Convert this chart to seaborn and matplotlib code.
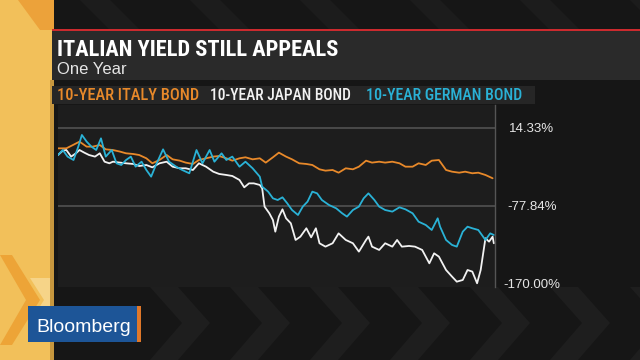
import pandas as pd
import seaborn as sns
import matplotlib.pyplot as plt
from matplotlib.patches import Rectangle, Polygon
from matplotlib import font_manager
from matplotlib.font_manager import FontProperties

# one year change (day of year, % change)
italy_days = [0, 7, 12.5, 18, 24, 29, 35, 40, 46, 52, 57, 63, 68, 74, 79, 85, 91, 96, 102, 107,
              113, 118, 124, 130, 135, 141, 146, 152, 157, 163, 169, 174, 180, 185, 191, 196, 202,
              208, 213, 219, 224, 230, 235, 241, 247, 252, 258, 263, 269, 274, 280, 286, 291, 297,
              302, 308, 313, 319, 325, 330, 336, 341, 347, 352, 358, 364]
italy_vals = [-9.7, -9.7, -5.8, -1.8, -7.7, -7.7, -5.8, -10.9, -11.7, -13.6, -15.6, -16.4, -17.6,
              -21.5, -27.4, -23.5, -17.6, -22.7, -24.3, -26.6, -28.2, -23.5, -21.5, -19.5, -18.8,
              -21.5, -24.3, -21.5, -20.3, -22.7, -21.5, -26.6, -20.3, -14.8, -19.5, -22.7, -27.4,
              -28.2, -29.4, -34.5, -36.1, -35.3, -38.5, -33.3, -34.5, -31.4, -24.3, -26.6, -25.5,
              -26.6, -25.5, -27.4, -31.4, -31.4, -27.4, -29.4, -24.3, -23.5, -35.3, -37.3, -38.5,
              -37.3, -39.2, -38.5, -41.2, -45.1]

japan_days = [0, 4, 7, 11, 15, 18, 22, 26, 31, 35, 39, 43, 46, 52, 57, 63, 68, 74, 79, 85, 91, 96,
              102, 107, 113, 118, 124, 130, 135, 141, 146, 152, 156, 160, 164, 169, 171, 173, 177,
              180, 182, 185, 188, 191, 195, 199, 203, 208, 212, 216, 219, 224, 230, 235, 241, 247,
              252, 258, 260, 263, 269, 274, 280, 284, 288, 294, 299, 305, 311, 315, 319, 325, 330,
              334, 339, 343, 347, 351, 354, 358, 361, 364, 365]
japan_vals = [-17.6, -12.5, -11.7, -19.5, -15.6, -11.7, -14.8, -17.6, -19.5, -15.6, -25.5, -27.4,
              -25.5, -26.6, -27.4, -28.2, -30.6, -29.4, -32.2, -27.4, -25.5, -31.4, -33.3, -33.3,
              -35.3, -27.4, -31.4, -37.3, -40.0, -41.2, -42.4, -47.1, -55.8, -51.1, -51.1, -53.0,
              -57.0, -78.6, -86.5, -94.4, -108.2, -90.4, -81.8, -92.4, -98.3, -118.0, -114.1,
              -104.2, -114.9, -104.2, -121.9, -125.9, -121.9, -110.2, -118.0, -121.9, -131.8,
              -118.0, -114.1, -125.9, -129.8, -121.9, -125.9, -118.0, -125.9, -125.1, -125.9,
              -129.8, -145.6, -133.8, -137.7, -153.5, -161.3, -167.3, -165.3, -153.5, -155.4,
              -169.2, -153.5, -116.0, -120.0, -114.1, -121.9]

german_days = [0, 4, 8, 13, 17, 20, 24, 28, 32, 36, 40, 45, 49, 53, 57, 61, 65, 70, 74, 78, 82, 88,
               93, 99, 104, 110, 116, 121, 127, 131, 137, 141, 146, 152, 157, 163, 169, 171, 176,
               180, 184, 188, 192, 196, 201, 205, 209, 213, 217, 221, 227, 233, 238, 242, 247, 252,
               256, 260, 265, 269, 274, 280, 286, 291, 297, 302, 308, 313, 318, 320, 325, 330, 334,
               339, 343, 347, 352, 358, 362, 365]
german_vals = [-17.6, -11.7, -19.5, -23.5, -7.7, 6.1, -1.8, -7.7, -11.7, 2.1, -19.5, -11.7, -27.4,
               -29.4, -23.5, -19.5, -31.4, -25.5, -35.3, -43.2, -29.4, -10.9, -25.5, -31.4, -35.3,
               -39.2, -11.7, -27.4, -11.7, -25.5, -15.6, -23.5, -19.5, -31.4, -25.5, -33.3, -43.2,
               -55.0, -60.9, -68.8, -70.8, -67.6, -74.7, -82.6, -88.5, -78.6, -72.7, -60.9, -62.9,
               -70.8, -76.7, -80.6, -86.5, -90.4, -82.6, -78.6, -68.8, -62.9, -70.8, -78.6, -82.6,
               -84.5, -79.4, -81.8, -86.5, -96.4, -100.3, -106.2, -92.4, -102.3, -118.0, -123.9,
               -125.9, -108.2, -102.3, -104.2, -106.2, -118.0, -110.2, -112.1]

series_names = ['10-YEAR ITALY BOND', '10-YEAR JAPAN BOND', '10-YEAR GERMAN BOND']
series_colors = ['#e8892a', '#f2f2f2', '#2ab2d6']
ytick_vals = [14.33, -77.84, -170.00]
ytick_labels = ['14.33%', '-77.84%', '-170.00%']

sns.set_style('dark')
plt.rcParams['font.family'] = ['Liberation Sans', 'DejaVu Sans']


def narrow_font(weight):
    # look for a condensed face, else plain Liberation Sans
    for fam in ['Liberation Sans Narrow', 'Roboto Condensed', 'DejaVu Sans', 'Noto Sans', 'Open Sans', 'Roboto']:
        fp = FontProperties(family=fam, stretch='condensed', weight=weight)
        try:
            path = font_manager.findfont(fp, fallback_to_default=False)
        except Exception:
            continue
        if 'Narrow' in path or 'Condensed' in path or 'Cond' in path:
            return fp
    return FontProperties(family='Liberation Sans', weight=weight)


def fit_width(txt, target, fig):
    # shrink/grow the font so the text spans target pixels
    r = fig.canvas.get_renderer()
    w = txt.get_window_extent(renderer=r).width
    txt.set_fontsize(txt.get_fontsize() * target / w)


fig = plt.figure(figsize=(6.4, 3.6), dpi=100)
fig.patch.set_facecolor('#161616')

# background decoration, drawn in pixel coords
bg = fig.add_axes([0, 0, 1, 1])
bg.set_xlim(0, 640)
bg.set_ylim(360, 0)
bg.axis('off')
for cx in range(150, 640, 80):
    bg.add_patch(Polygon([(cx, 287), (cx + 28, 287), (cx + 60, 323), (cx + 28, 360), (cx, 360), (cx + 32, 323)],
                         closed=True, color='#1e1e1e', lw=0))
for cx in range(80, 640, 110):
    bg.add_patch(Polygon([(cx, 0), (cx + 30, 0), (cx + 60, 30), (cx + 30, 30)], closed=True, color='#1c1c1c', lw=0))
bg.add_patch(Rectangle((0, 0), 54, 360, color='#f2c05a', lw=0))
bg.add_patch(Polygon([(18, 0), (54, 0), (54, 30), (40, 30)], closed=True, color='#eca23a', lw=0))
bg.add_patch(Polygon([(0, 255), (12, 255), (40, 300), (12, 345), (0, 345), (26, 300)], closed=True, color='#eda437', lw=0))
bg.add_patch(Polygon([(30, 278), (54, 278), (54, 322), (30, 322), (44, 300)], closed=True, color='#f6d488', lw=0))
bg.add_patch(Rectangle((50, 80), 4, 280, color='#c7973e', lw=0))

# title panel + legend strip
bg.add_patch(Rectangle((52, 30), 588, 50, color='#2a2a2a', lw=0))
bg.add_patch(Rectangle((52, 28.5), 588, 2.5, color='#cc2a2e', lw=0))
bg.add_patch(Rectangle((52, 86), 483, 18, color='#262626', lw=0))
fp_title = narrow_font('bold')
fp_leg = narrow_font('medium')
title = bg.text(57, 55.5, 'ITALIAN YIELD STILL APPEALS', color='white',
                fontproperties=fp_title, va='baseline')
title.set_fontsize(17)
bg.text(57, 74.5, 'One Year', color='#e6e6e6', fontsize=12, va='baseline')
leg_texts = []
for nm, col, x0 in zip(series_names, series_colors, [57, 210, 366]):
    t = bg.text(x0, 100, nm, color=col, fontproperties=fp_leg, va='baseline')
    t.set_fontsize(11)
    leg_texts.append(t)

# Bloomberg box
bg.add_patch(Rectangle((28, 306), 109, 36, color='#1d5597', lw=0))
bg.add_patch(Rectangle((137, 306), 4, 36, color='#e0782a', lw=0))
bg.text(36, 332, 'Bloomberg', color='white', fontsize=14, va='baseline')

# chart
ax = fig.add_axes([58 / 640, (360 - 287) / 360, 437 / 640, 182 / 360])
ax.set_facecolor('#1d1d1d')
for v in ytick_vals[:2]:
    ax.axhline(v, color='#4d4d4d', lw=1.3, zorder=0)
frames = [pd.DataFrame({'day': italy_days, 'val': italy_vals}),
          pd.DataFrame({'day': japan_days, 'val': japan_vals}),
          pd.DataFrame({'day': german_days, 'val': german_vals})]
for df, col in zip(frames, series_colors):
    sns.lineplot(data=df, x='day', y='val', color=col, linewidth=1.3, ax=ax)
ax.set_xlim(0, 366)
ax.set_ylim(-173.6, 41.5)
ax.set_xlabel('')
ax.set_ylabel('')
ax.set_xticks([])
ax.grid(False)
ax.yaxis.tick_right()
ax.set_yticks(ytick_vals)
ax.set_yticklabels(ytick_labels)
ax.tick_params(axis='y', length=0, pad=26.5, labelsize=9.5, labelcolor='#e6e6e6')
for lab in ax.get_yticklabels():
    lab.set_horizontalalignment('center')
for s in ['top', 'left', 'bottom']:
    ax.spines[s].set_visible(False)
ax.spines['right'].set_color('#555555')
ax.spines['right'].set_linewidth(1)

# match the widths of the condensed broadcast lettering
fit_width(title, 282, fig)
for t, w in zip(leg_texts, [141, 141, 156]):
    fit_width(t, w, fig)

fig.savefig('out.png', dpi=100, facecolor=fig.get_facecolor())
